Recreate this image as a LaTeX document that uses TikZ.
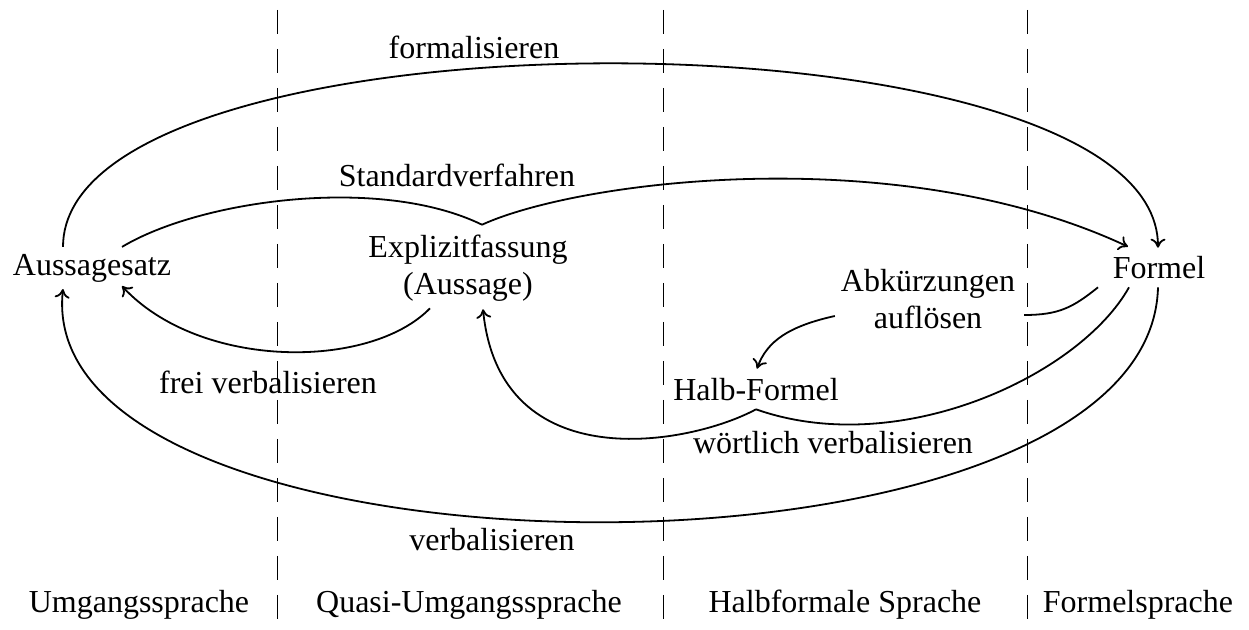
\documentclass[tikz,border=0pt]{standalone}
\usepackage{fontspec}
\setmainfont{Liberation Serif}
\usetikzlibrary{arrows.meta}
\begin{document}
\begin{tikzpicture}[x=0.5pt,y=-0.5pt,font=\fontsize{16}{18.5}\selectfont,
  >={To[length=4.5pt,width=7.5pt]},
  pfeil/.style={line width=0.9pt,->},
  linie/.style={line width=0.9pt},
  trenner/.style={thin,dash pattern=on 12pt off 7.5pt}]
\useasboundingbox (0,0) rectangle (1249,630);
% Trennlinien zwischen den Sprachebenen
\foreach \x in {277,663,1027}
\draw[trenner] (\x,10) -- (\x,630);
% Sprachebenen
\node (umg) at (139,605) {Umgangssprache};
\node (quasi) at (469,605) {Quasi-Umgangssprache};
\node (halbf) at (845,605) {Halbformale Sprache};
\node (formsp) at (1138,605) {Formelsprache};
% Knoten
\node (satz) at (92,268) {Aussagesatz};
\node[align=center] (explizit) at (468,268) {Explizitfassung\\(Aussage)};
\node (formel) at (1159,268) {Formel};
\node[align=center] (abk) at (928,299) {Abkürzungen\\auflösen};
\node (halb) at (756,390) {Halb-Formel};
% Beschriftungen
\node (l1) at (474,47) {formalisieren};
\node (l2) at (457,175) {Standardverfahren};
\node (l3) at (268,382) {frei verbalisieren};
\node (l4) at (833,443) {wörtlich verbalisieren};
\node (l5) at (492,540) {verbalisieren};
% formalisieren
\draw[pfeil] ([shift={(-29,0)}]satz.north) .. controls +(0,-245) and +(0,-245) .. ([shift={(-1,-2)}]formel.north);
% Standardverfahren
\coordinate (spitze) at ([shift={(14,-3)}]explizit.north);
\draw[linie] ([shift={(30,0)}]satz.north) .. controls (200,200) and (380,175) .. (spitze);
\draw[pfeil] (spitze) .. controls (580,180) and (900,140) .. ([shift={(-31,-3)}]formel.north);
% frei verbalisieren
\draw[pfeil] ([shift={(-38,0)}]explizit.south) .. controls (370,370) and (200,370) .. ([shift={(30,-3)}]satz.south);
% Abkuerzungen aufloesen
\draw[linie] ([shift={(-61,1)}]formel.south) .. controls +(-25,20) and +(35,0) .. ([shift={(2,16)}]abk.east);
\draw[pfeil] ([shift={(1,17)}]abk.west) .. controls +(-45,10) and +(10,-28) .. ([shift={(1,-3)}]halb.north);
% woertlich verbalisieren
\coordinate (knick) at ([shift={(0,1)}]halb.south);
\draw[linie] ([shift={(-30,1)}]formel.south) .. controls (1080,375) and (900,460) .. (knick);
\draw[pfeil] (knick) .. controls (690,445) and (500,480) .. ([shift={(15,1)}]explizit.south);
% verbalisieren
\draw[pfeil] ([shift={(-1,1)}]formel.south) .. controls (1150,605) and (30,595) .. ([shift={(-29,0)}]satz.south);
\end{tikzpicture}
\end{document}
